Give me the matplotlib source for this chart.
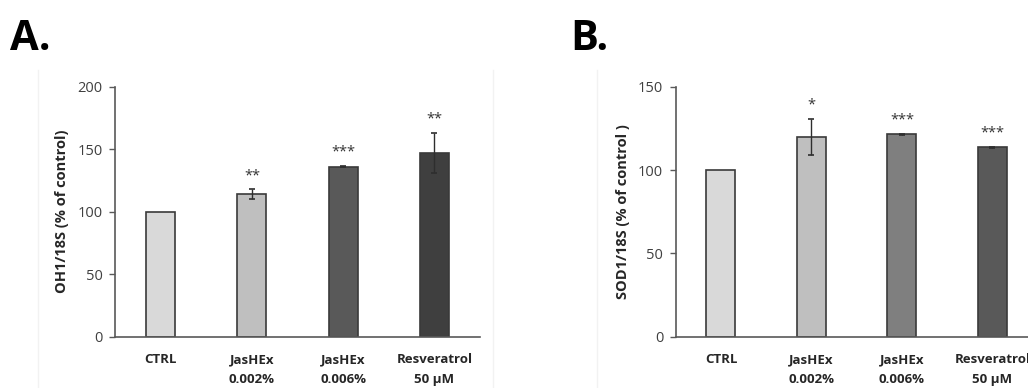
import matplotlib
matplotlib.use("Agg")
import matplotlib.pyplot as plt
from matplotlib.lines import Line2D

plt.rcParams["font.family"] = ["Open Sans", "DejaVu Sans"]

# Treatment groups
categories = ["CTRL", "JasHEx\n0.002%", "JasHEx\n0.006%", "Resveratrol\n50 µM"]

# Panel A: OH1/18S expression (% of control)
oh1_mean = [100, 114, 136, 147]
oh1_err = [0, 3.8, 0.4, 16]
oh1_sig = ["", "**", "***", "**"]
oh1_colors = ["#d9d9d9", "#bfbfbf", "#595959", "#3f3f3f"]

# Panel B: SOD1/18S expression (% of control)
sod1_mean = [100, 120, 121.4, 113.6]
sod1_err = [0, 10.8, 0.5, 0.3]
sod1_sig = ["", "*", "***", "***"]
sod1_colors = ["#d9d9d9", "#bfbfbf", "#7f7f7f", "#595959"]

W, H = 1028, 388
fig = plt.figure(figsize=(W / 100, H / 100), dpi=100)

axis_col = "#595959"
text_col = "#404040"


def px_box(x0, y0, x1, y1):
    return [x0 / W, 1 - y1 / H, (x1 - x0) / W, (y1 - y0) / H]


def draw_panel(ax, means, errs, sigs, colors, ymax, ystep, ylabel):
    x = list(range(len(categories)))
    ax.bar(x, means, width=0.32, color=colors, edgecolor="#3a3a3a",
           linewidth=1.2, zorder=2)
    for i, (m, e) in enumerate(zip(means, errs)):
        if e > 0:
            ax.errorbar(i, m, yerr=e, fmt="none", ecolor="#2e2e2e",
                        elinewidth=1.0, capsize=2.5, capthick=1.2, zorder=3)
        if sigs[i]:
            ax.annotate(sigs[i], (i, m + e), xytext=(0, 10),
                        textcoords="offset points", ha="center", va="center",
                        fontsize=10.5, color="#333333")
    ax.set_xlim(-0.5, len(categories) - 0.5)
    ax.set_ylim(0, ymax)
    ax.set_yticks(range(0, ymax + 1, ystep))
    ax.set_xticks(x)
    ax.set_xticklabels(categories, fontsize=9.5, fontweight="bold",
                       color="#262626", linespacing=1.65)
    ax.tick_params(axis="x", length=0, pad=12)
    ax.tick_params(axis="y", direction="out", length=4, width=1,
                   color=axis_col, labelsize=10.5, labelcolor=text_col, pad=5)
    for s in ("top", "right"):
        ax.spines[s].set_visible(False)
    for s in ("left", "bottom"):
        ax.spines[s].set_color(axis_col)
        ax.spines[s].set_linewidth(1.2)
    ax.set_ylabel(ylabel, fontsize=10.5, fontweight="bold", color="#262626",
                  labelpad=6)
    ax.patch.set_alpha(0)


# Faint chart-area borders
for xb in (38, 493, 597):
    fig.add_artist(Line2D([xb / W, xb / W], [0, 1 - 70 / H],
                          transform=fig.transFigure, color="#f2f2f2", lw=1.0))

axA = fig.add_axes(px_box(115, 86.7, 480, 336.7))
draw_panel(axA, oh1_mean, oh1_err, oh1_sig, oh1_colors, 200, 50,
           "OH1/18S (% of control)")

axB = fig.add_axes(px_box(675.7, 86.7, 675.7 + 362, 336.7))
draw_panel(axB, sod1_mean, sod1_err, sod1_sig, sod1_colors, 150, 50,
           "SOD1/18S (% of control )")

fig.text(10 / W, 1 - 50 / H, "A.", fontsize=30, fontweight="bold",
         color="black", ha="left", va="baseline")
fig.text(570 / W, 1 - 50 / H, "B.", fontsize=30, fontweight="bold",
         color="black", ha="left", va="baseline")

fig.savefig("out.png", dpi=100, facecolor="white")
